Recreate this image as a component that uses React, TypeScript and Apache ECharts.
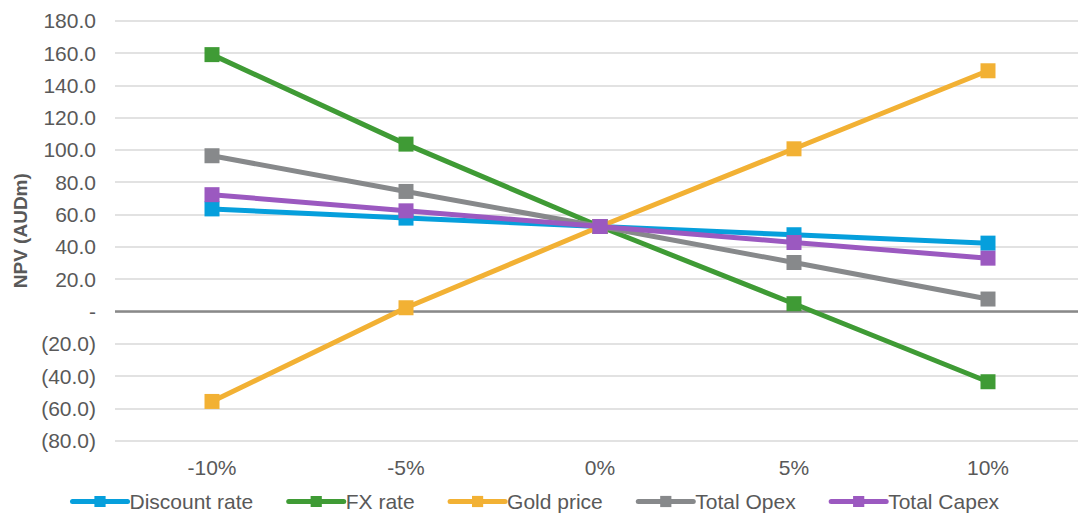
import React, { useEffect, useRef } from "react";
import * as echarts from "echarts";

const categories = ["-10%", "-5%", "0%", "5%", "10%"];
const discountRate = [63.5, 57.8, 52.6, 47.5, 42.3];
const fxRate = [159.0, 103.6, 52.6, 4.8, -43.5];
const goldPrice = [-55.7, 2.3, 52.6, 100.7, 149.0];
const totalOpex = [96.4, 74.3, 52.6, 30.3, 7.7];
const totalCapex = [72.3, 62.3, 52.6, 42.7, 33.0];

const seriesNames = ["Discount rate", "FX rate", "Gold price", "Total Opex", "Total Capex"];
const seriesData = [discountRate, fxRate, goldPrice, totalOpex, totalCapex];
const seriesColors = ["#069fdc", "#3f9b35", "#f2b134", "#87898b", "#9b59c0"];

const FONT = "'Liberation Sans', Arial, sans-serif";
const TEXT = "#595959";

export default function App() {
  const ref = useRef<HTMLDivElement>(null);
  useEffect(() => {
    if (!ref.current) return;
    const chart = echarts.init(ref.current, undefined, { renderer: "svg" });
    chart.setOption({
      animation: false,
      textStyle: { fontFamily: FONT },
      grid: { left: 115, right: 0, top: 20.7, bottom: 72.3, containLabel: false },
      legend: {
        top: 491,
        left: 70,
        padding: 0,
        itemWidth: 55,
        itemHeight: 14,
        itemGap: 33,
        lineStyle: { width: 5, cap: "round" },
        textStyle: { fontSize: 21, color: TEXT, fontFamily: FONT, padding: [0, 0, 0, -3] },
        data: seriesNames,
      },
      xAxis: {
        type: "category",
        data: categories,
        boundaryGap: true,
        axisLine: { show: false, onZero: false },
        axisTick: { show: false },
        axisLabel: { fontSize: 21, color: TEXT, margin: 16, fontFamily: FONT },
      },
      yAxis: {
        type: "value",
        min: -80,
        max: 180,
        interval: 20,
        name: "NPV (AUDm)",
        nameLocation: "middle",
        nameGap: 83,
        nameTextStyle: { fontSize: 19, fontWeight: "bold", color: TEXT, fontFamily: FONT },
        axisLine: { show: false },
        axisTick: { show: false },
        axisLabel: {
          fontSize: 21,
          color: TEXT,
          margin: 19,
          fontFamily: FONT,
          formatter: (v: number) =>
            v === 0 ? "-" : v < 0 ? `(${(-v).toFixed(1)})` : v.toFixed(1),
        },
        splitLine: { lineStyle: { color: "#d9d9d9", width: 1.5 } },
      },
      series: seriesNames.map((name, i) => ({
        name,
        type: "line",
        data: seriesData[i],
        symbol: "rect",
        symbolSize: 15,
        lineStyle: { width: 5, color: seriesColors[i] },
        itemStyle: { color: seriesColors[i] },
        z: 3 + i,
        ...(i === 0
          ? {
              markLine: {
                silent: true,
                symbol: "none",
                label: { show: false },
                lineStyle: { color: "#898989", width: 2.5, type: "solid" },
                data: [{ yAxis: 0 }],
                z: 1,
              },
            }
          : {}),
      })),
    });
    return () => chart.dispose();
  }, []);
  return (
    <div
      style={{ position: "absolute", left: 0, top: 0, width: 1078, height: 513, overflow: "hidden", background: "#fff" }}
    >
      <div ref={ref} style={{ width: 1085, height: 513 }} />
    </div>
  );
}
